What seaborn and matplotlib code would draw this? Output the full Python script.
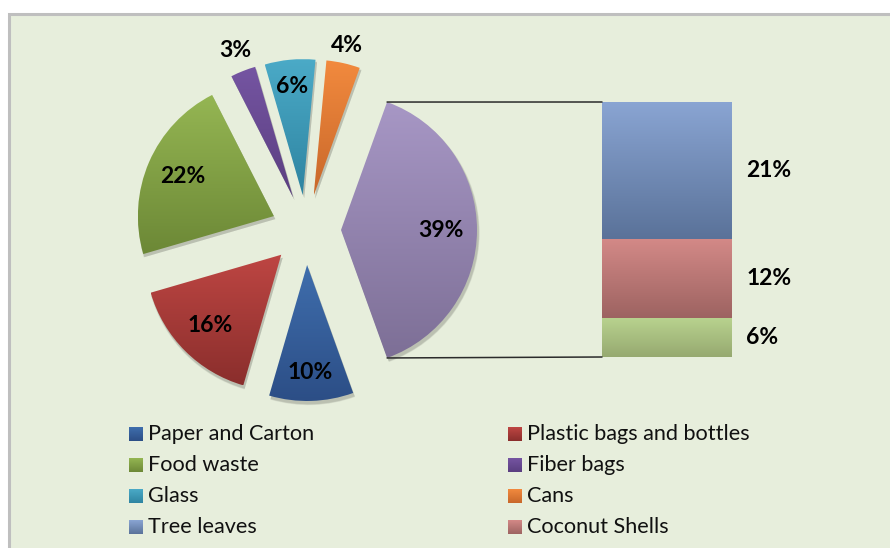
import numpy as np
import pandas as pd
import matplotlib
matplotlib.use("Agg")
import matplotlib.pyplot as plt
import matplotlib.patches as mpatches
from matplotlib.patches import ConnectionPatch
from matplotlib.colors import LinearSegmentedColormap
import seaborn as sns

# ---- data -------------------------------------------------------------
categories = ["Paper and Carton", "Plastic bags and bottles", "Food waste",
              "Fiber bags", "Glass", "Cans", "Other"]
shares = [10, 16, 22, 3, 6, 4, 39]

split_labels = ["Tree leaves", "Coconut Shells", "Others"]
split_shares = [21, 12, 6]

legend_labels = ["Paper and Carton", "Plastic bags and bottles", "Food waste",
                 "Fiber bags", "Glass", "Cans", "Tree leaves", "Coconut Shells"]

# ---- styling ----------------------------------------------------------
# (top colour, bottom colour) of the vertical gradient for every shape
pie_grad = {
    "Paper and Carton": ("#3F6EAD", "#2C4E86"),
    "Plastic bags and bottles": ("#BE4643", "#8A2E2C"),
    "Food waste": ("#95B653", "#6C8836"),
    "Fiber bags": ("#7555A2", "#5A3E80"),
    "Glass": ("#4BAAC7", "#2E84A1"),
    "Cans": ("#F28A3E", "#C8672A"),
    "Other": ("#A797C5", "#7D6F96"),
}
bar_grad = {
    "Tree leaves": ("#8AA5D3", "#5A7299"),
    "Coconut Shells": ("#D38987", "#9D6361"),
    "Others": ("#B9D38F", "#96A970"),
}
label_dist = [0.79, 0.74, 0.73, 1.16, 0.80, 1.13, 0.735]

BG = "#E7EEDC"
W, H = 890, 548
PCT_SIZE = 16.5
LEG_SIZE = 15.6

sns.set_theme(style="white")
plt.rcParams["font.family"] = ["Lato", "DejaVu Sans"]

fig = plt.figure(figsize=(W / 100, H / 100), dpi=100)
fig.patch.set_facecolor("white")
ax = fig.add_axes([0, 0, 1, 1])
ax.set_xlim(0, W)
ax.set_ylim(0, H)
ax.axis("off")

# chart area with its grey frame
ax.add_patch(mpatches.Rectangle((8.5, -20), W + 40, H - 13.5 + 20,
                                facecolor=BG, edgecolor="#BFBFBF",
                                linewidth=2.2, zorder=0))


def fill_gradient(axis, patch, top, bottom, extent=None, z=2):
    if extent is None:
        bb = patch.get_path().get_extents(patch.get_patch_transform())
        extent = (bb.x0, bb.x1, bb.y0, bb.y1)
    cmap = LinearSegmentedColormap.from_list("g", [bottom, top])
    grad = np.linspace(0, 1, 256).reshape(-1, 1)
    im = axis.imshow(grad, cmap=cmap, extent=extent, origin="lower",
                     aspect="auto", interpolation="bilinear", zorder=z)
    im.set_clip_path(patch)
    patch.set_facecolor("none")
    patch.set_linewidth(0)
    return im


# ---- exploded pie -----------------------------------------------------
center = (306, 318)
radius = 136
start = -shares[-1] / sum(shares) * 180
wedges, _ = ax.pie(shares, startangle=start, counterclock=False,
                   explode=[35] * len(shares), radius=radius, center=center,
                   frame=True, wedgeprops=dict(linewidth=0))

for w, name, val, d in zip(wedges, categories, shares, label_dist):
    cx, cy = w.center
    # soft drop shadow
    for k, a in ((4, 0.05), (2.5, 0.07), (1, 0.08)):
        ax.add_patch(mpatches.Wedge((cx + 1.5, cy - 3), w.r + k * 0.3,
                                    w.theta1, w.theta2,
                                    facecolor=(0, 0, 0, a), linewidth=0,
                                    zorder=1))
    fill_gradient(ax, w, *pie_grad[name])
    th = np.deg2rad((w.theta1 + w.theta2) / 2)
    ax.text(cx + d * w.r * np.cos(th), cy + d * w.r * np.sin(th), f"{val}%",
            ha="center", va="center", fontsize=PCT_SIZE, fontweight="bold",
            color="black", zorder=5)

ax.set_xlim(0, W)
ax.set_ylim(0, H)
ax.axis("off")

# ---- stacked bar for the split-out slice ------------------------------
ax_bar = fig.add_axes([602 / W, (H - 357) / H, 130 / W, 255 / H])
tops = np.cumsum(split_shares[::-1])[::-1]
lows = tops - np.array(split_shares)
df = pd.DataFrame({"group": ["Other"] * len(split_labels),
                   "segment": split_labels, "top": tops})
sns.barplot(data=df, x="group", y="top", hue="segment",
            hue_order=split_labels, dodge=False, width=1, saturation=1,
            palette=[bar_grad[s][0] for s in split_labels], legend=False,
            ax=ax_bar)
ax_bar.set_xlim(-0.5, 0.5)
ax_bar.set_ylim(0, sum(split_shares))
ax_bar.axis("off")

for p, seg, lo, hi, val in zip(ax_bar.patches, split_labels, lows, tops,
                               split_shares):
    x0 = p.get_x()
    fill_gradient(ax_bar, p, *bar_grad[seg],
                  extent=(x0, x0 + p.get_width(), lo, hi))
    ax_bar.text(1.11, (lo + hi) / 2, f"{val}%",
                transform=ax_bar.get_yaxis_transform(), ha="left",
                va="center", fontsize=PCT_SIZE, fontweight="bold",
                color="black", clip_on=False)

ax_bar.set_xlim(-0.5, 0.5)
ax_bar.set_ylim(0, sum(split_shares))

# connector lines from the split slice to the bar
other = wedges[-1]
ox, oy = other.center
for ang, ybar in ((other.theta2, sum(split_shares)), (other.theta1, 0)):
    t = np.deg2rad(ang)
    con = ConnectionPatch(
        xyA=(ox + other.r * np.cos(t), oy + other.r * np.sin(t)),
        coordsA=ax.transData, xyB=(-0.5, ybar), coordsB=ax_bar.transData,
        color="#2B2B2B", linewidth=1.1, zorder=6)
    fig.add_artist(con)

# ---- legend -----------------------------------------------------------
all_grad = {**pie_grad, **bar_grad}
for i, lab in enumerate(legend_labels):
    col, row = i % 2, i // 2
    x = 129 + col * 379
    yc = H - (434 + 31 * row)
    sq = mpatches.Rectangle((x, yc - 7), 14, 14, zorder=3)
    ax.add_patch(sq)
    fill_gradient(ax, sq, *all_grad[lab], z=3)
    ax.text(x + 19, yc, lab, ha="left", va="center", fontsize=LEG_SIZE,
            color="#111111", zorder=4)

ax.set_xlim(0, W)
ax.set_ylim(0, H)

fig.savefig("out.png", dpi=100, facecolor=fig.get_facecolor())
